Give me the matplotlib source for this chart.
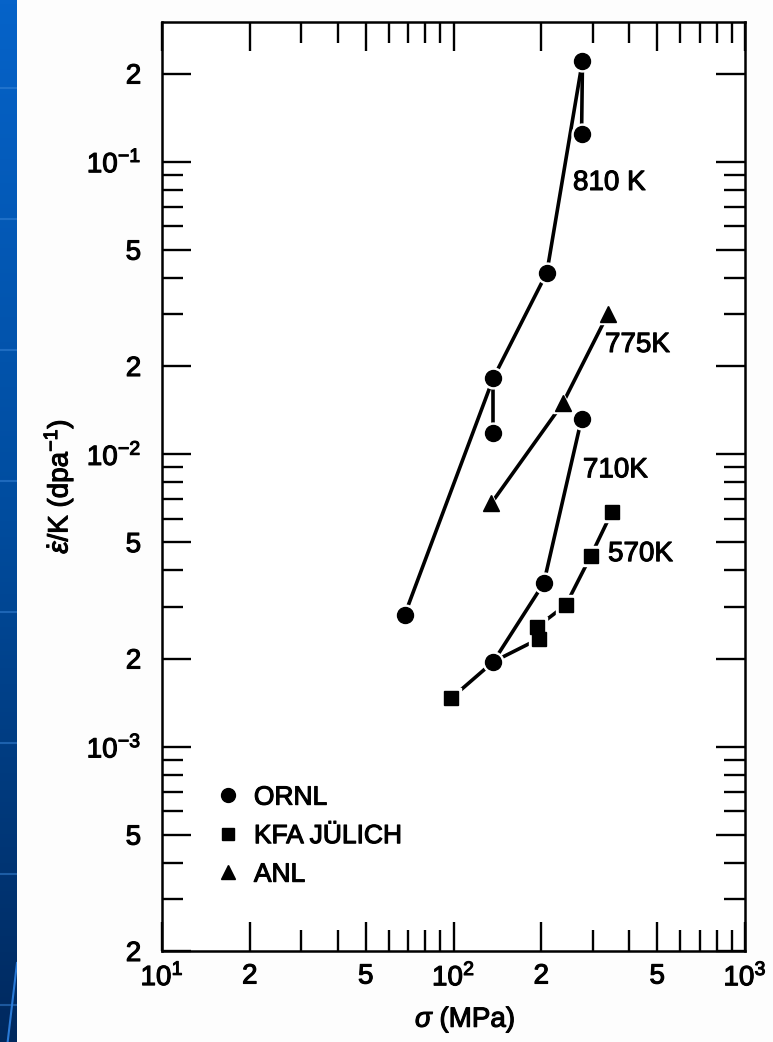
import numpy as np
import matplotlib.pyplot as plt
import matplotlib.patheffects as pe
from matplotlib.colors import LinearSegmentedColormap
from matplotlib.lines import Line2D
from matplotlib.ticker import FixedLocator, FixedFormatter, NullFormatter

plt.rcParams['font.family'] = ['Liberation Sans', 'DejaVu Sans']
plt.rcParams['mathtext.fontset'] = 'custom'
plt.rcParams['mathtext.rm'] = 'Liberation Sans'
plt.rcParams['mathtext.it'] = 'Liberation Sans:italic'
plt.rcParams['mathtext.bf'] = 'Liberation Sans:bold'
plt.rcParams['mathtext.fallback'] = 'stixsans'

# ORNL points (circles)
ornl_stress = [68, 137, 137, 209, 277, 275, 137, 204, 275]
ornl_rate = [2.82e-3, 1.82e-2, 1.18e-2, 4.17e-2, 2.21e-1, 1.24e-1, 1.95e-3, 3.62e-3, 1.32e-2]

# KFA Juelich points (squares)
kfa_stress = [98, 193, 197, 243, 296, 349]
kfa_rate = [1.46e-3, 2.56e-3, 2.34e-3, 3.05e-3, 4.49e-3, 6.32e-3]

# ANL points (triangles)
anl_stress = [135, 237, 338]
anl_rate = [6.8e-3, 1.49e-2, 3.0e-2]

# connecting curves, one per temperature
c810_stress = [68, 137, 209, 277]
c810_rate = [2.82e-3, 1.82e-2, 4.17e-2, 2.21e-1]
c810_branch1_stress = [137, 137]
c810_branch1_rate = [1.82e-2, 1.18e-2]
c810_branch2_stress = [277, 275]
c810_branch2_rate = [2.21e-1, 1.24e-1]
c775_stress = anl_stress
c775_rate = anl_rate
c710_stress = [137, 204, 275]
c710_rate = [1.95e-3, 3.62e-3, 1.32e-2]
c570_stress = [98, 137, 197, 193, 243, 296, 349]
c570_rate = [1.46e-3, 1.95e-3, 2.34e-3, 2.56e-3, 3.05e-3, 4.49e-3, 6.32e-3]

temp_labels = ['810 K', '775K', '710K', '570K']
temp_label_stress = [257, 331, 278, 339]
temp_label_rate = [0.0845, 0.0236, 0.0088, 0.00455]

x_ticks = [10, 20, 50, 100, 200, 500, 1000]
x_ticklabels = [r'$10^1$', '2', '5', r'$10^2$', '2', '5', r'$10^3$']
y_ticks = [2e-4, 5e-4, 1e-3, 2e-3, 5e-3, 1e-2, 2e-2, 5e-2, 1e-1, 2e-1]
y_ticklabels = ['2', '5', r'$10^{-3}$', '2', '5', r'$10^{-2}$', '2', '5', r'$10^{-1}$', '2']

# slightly heavier strokes for all text
bold_fx = [pe.withStroke(linewidth=0.8, foreground='black')]

fig = plt.figure(figsize=(7.73, 10.42), dpi=100)
fig.patch.set_facecolor('#fdfdfd')

# blue slide strip on the left edge
strip = fig.add_axes([0, 0, 17 / 773, 1])
grad = np.linspace(0, 1, 256).reshape(-1, 1)
strip.imshow(grad, aspect='auto', extent=[0, 1, 0, 1], origin='upper',
             cmap=LinearSegmentedColormap.from_list('slide', ['#0663c9', '#004c9e', '#00295e']))
for yy in np.arange(1042 - 88, 0, -131) / 1042:
    strip.axhline(yy, color='#3a86d8', lw=1.5, alpha=0.5)
strip.plot([1.0, 0.45], [1 - 963 / 1042, 0], color='#2a7ad6', lw=1.5)
strip.set_xlim(0, 1)
strip.set_ylim(0, 1)
strip.axis('off')

ax = fig.add_axes([162 / 773, 1 - 951 / 1042, (745 - 162) / 773, (951 - 22) / 1042])
ax.set_facecolor('white')
ax.set_xscale('log')
ax.set_yscale('log')
ax.set_xlim(10, 1000)
ax.set_ylim(2e-4, 0.3)

lw = 2.6
for xs, ys in [(c810_stress, c810_rate), (c810_branch1_stress, c810_branch1_rate),
               (c810_branch2_stress, c810_branch2_rate), (c775_stress, c775_rate),
               (c710_stress, c710_rate), (c570_stress, c570_rate)]:
    ax.plot(xs, ys, color='black', lw=lw, solid_capstyle='round', zorder=2)

# white halos leave a small gap where lines meet the symbols
symbols = [(ornl_stress, ornl_rate, 'o', 11.5), (kfa_stress, kfa_rate, 's', 10.5),
           (anl_stress, anl_rate, '^', 11.5)]
for xs, ys, m, ms in symbols:
    ax.plot(xs, ys, ls='none', marker=m, ms=ms + 3.5, color='white', mec='white', zorder=3)
for xs, ys, m, ms in symbols:
    ax.plot(xs, ys, ls='none', marker=m, ms=ms, color='black', mec='black', zorder=4)

for t, xs, ys in zip(temp_labels, temp_label_stress, temp_label_rate):
    ax.text(xs, ys, t, fontsize=20, ha='left', va='center', zorder=5, path_effects=bold_fx)

handles = [Line2D([], [], ls='none', marker='o', ms=10, color='black', label='ORNL'),
           Line2D([], [], ls='none', marker='s', ms=9, color='black', label='KFA JÜLICH'),
           Line2D([], [], ls='none', marker='^', ms=10, color='black', label='ANL')]
leg = ax.legend(handles=handles, loc='upper left', bbox_to_anchor=(0.092, 0.178), frameon=False,
                fontsize=19, handlelength=0.95, handletextpad=0.5, labelspacing=0.55,
                borderpad=0, borderaxespad=0)
for t in leg.get_texts():
    t.set_path_effects(bold_fx)

ax.xaxis.set_major_locator(FixedLocator(x_ticks))
ax.xaxis.set_major_formatter(FixedFormatter(x_ticklabels))
ax.xaxis.set_minor_locator(FixedLocator([3, 4, 6, 7, 8, 9, 30, 40, 60, 70, 80, 90, 300, 400, 600, 700, 800, 900]))
ax.xaxis.set_minor_formatter(NullFormatter())
ax.yaxis.set_major_locator(FixedLocator(y_ticks))
ax.yaxis.set_major_formatter(FixedFormatter(y_ticklabels))
y_minor = [m * 10.0 ** e for e in (-4, -3, -2, -1) for m in (3, 4, 6, 7, 8, 9)]
ax.yaxis.set_minor_locator(FixedLocator([v for v in y_minor if v < 0.3]))
ax.yaxis.set_minor_formatter(NullFormatter())

ax.tick_params(which='both', direction='in', top=True, right=True, width=1.7, color='black')
ax.tick_params(which='major', length=21)
ax.tick_params(which='minor', length=15)
ax.tick_params(axis='y', which='major', pad=15, labelsize=20)
ax.tick_params(axis='x', which='major', pad=9, labelsize=20)
for lab in ax.get_xticklabels() + ax.get_yticklabels():
    lab.set_path_effects(bold_fx)
for sp in ax.spines.values():
    sp.set_linewidth(1.8)

ax.set_xlabel(r'$\sigma$ (MPa)', fontsize=20, labelpad=8, path_effects=bold_fx)
ax.xaxis.set_label_coords(0.52, -0.058)
ax.set_ylabel(r'$\dot{\epsilon}$/K (dpa$^{-1}$)', fontsize=20, labelpad=8, path_effects=bold_fx)

fig.savefig('out.png', dpi=100)
